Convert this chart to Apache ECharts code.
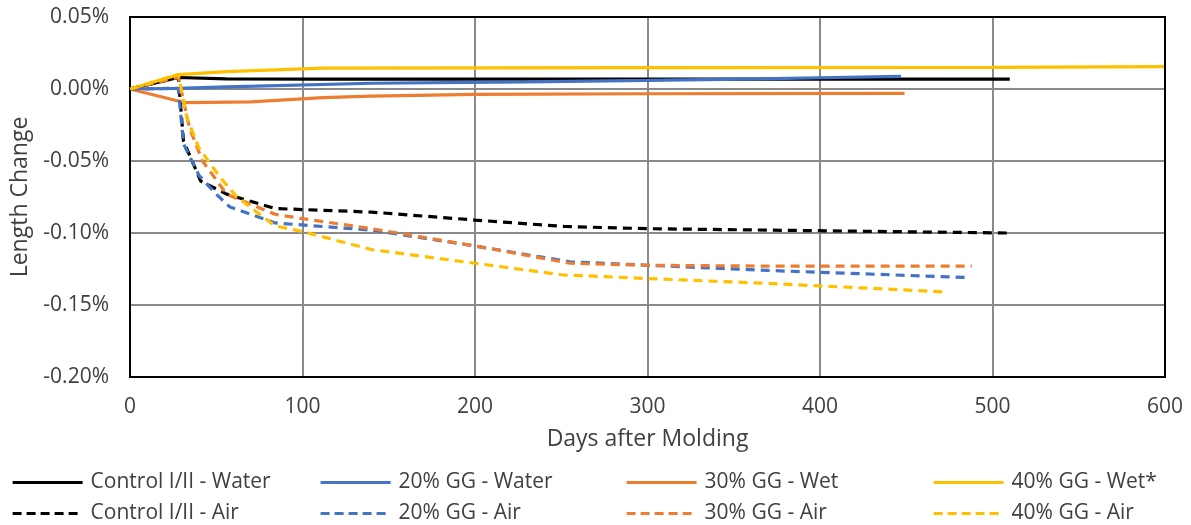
<!DOCTYPE html>
<html>
<head>
<meta charset="utf-8">
<script src="https://cdn.jsdelivr.net/npm/echarts@6/dist/echarts.min.js"></script>
<style>
  html, body { margin: 0; padding: 0; background: #fff; }
  #chart { width: 1191px; height: 525px; }
</style>
</head>
<body>
<div id="chart"></div>
<script>
// ---- Data (days after molding, length change in %) ----
const seriesNames = [
  'Control I/II - Water', '20% GG - Water', '30% GG - Wet', '40% GG - Wet*',
  'Control I/II - Air', '20% GG - Air', '30% GG - Air', '40% GG - Air'
];
const ctrlWater = [[0,0],[28,0.008],[56,0.007],[112,0.0068],[200,0.0068],[300,0.0068],[400,0.0068],[510,0.0068]];
const gg20Water = [[0,0],[28,0.0005],[56,0.0015],[140,0.004],[230,0.005],[300,0.006],[365,0.007],[400,0.0078],[447,0.0088]];
const gg30Wet   = [[0,0],[32,-0.0095],[70,-0.009],[112,-0.006],[140,-0.005],[200,-0.0038],[300,-0.0033],[449,-0.003]];
const gg40Wet   = [[0,0],[28,0.010],[56,0.012],[112,0.0145],[300,0.0148],[500,0.015],[600,0.0155]];
const ctrlAir   = [[0,0],[28,0.008],[31,-0.036],[41,-0.064],[56,-0.073],[84,-0.083],[140,-0.0855],[200,-0.091],[252,-0.0955],[300,-0.097],[370,-0.098],[509,-0.100]];
const gg20Air   = [[0,0],[28,0.0005],[31,-0.038],[40,-0.06],[50,-0.073],[58,-0.082],[84,-0.093],[140,-0.098],[200,-0.109],[255,-0.120],[300,-0.1224],[370,-0.126],[487,-0.131]];
const gg30Air   = [[0,0],[28,0.008],[34.5,-0.027],[42,-0.05],[56,-0.073],[84,-0.087],[100,-0.090],[140,-0.097],[200,-0.109],[255,-0.121],[300,-0.1224],[370,-0.123],[488,-0.123]];
const gg40Air   = [[0,0],[28,0.010],[33,-0.020],[40,-0.041],[52,-0.061],[62,-0.075],[84,-0.095],[100,-0.099],[140,-0.1115],[200,-0.121],[250,-0.129],[300,-0.1316],[370,-0.135],[474,-0.141]];

const seriesData = [ctrlWater, gg20Water, gg30Wet, gg40Wet, ctrlAir, gg20Air, gg30Air, gg40Air];
const colors = ['#000000', '#4472C4', '#ED7D31', '#FFC000', '#000000', '#4472C4', '#ED7D31', '#FFC000'];
const dashed = [false, false, false, false, true, true, true, true];

// ---- Layout ----
const FONT = 'Open Sans';
const TXT = '#404040';
const legendCols = [11, 319, 625, 932];
const legendRows = [472, 503];

const series = seriesData.map((d, i) => ({
  name: seriesNames[i],
  type: 'line',
  data: d,
  symbol: 'none',
  smooth: false,
  clip: true,
  lineStyle: { color: colors[i], width: 3.2, type: dashed[i] ? [9, 6] : 'solid' },
  itemStyle: { color: colors[i] },
  z: 3 + i,
  animation: false
}));

const legends = seriesNames.map((n, i) => ({
  data: [n],
  left: legendCols[i % 4],
  top: legendRows[Math.floor(i / 4)],
  itemWidth: 70,
  itemHeight: 14,
  itemGap: 0,
  padding: 0,
  itemStyle: { color: 'rgba(0,0,0,0)', borderWidth: 0, opacity: 0 },
  lineStyle: { color: colors[i], width: 3.2, type: dashed[i] ? [9, 5] : 'solid', opacity: 1 },
  textStyle: { fontFamily: FONT, fontSize: 21, color: TXT, padding: [0, 0, 0, 3] },
  selectedMode: false
}));

const chart = echarts.init(document.getElementById('chart'), null, { renderer: 'canvas' });
chart.setOption({
  animation: false,
  backgroundColor: '#ffffff',
  grid: {
    left: 130, right: 26, top: 17, bottom: 148,
    show: true, borderColor: '#000000', borderWidth: 2, backgroundColor: 'transparent', z: 10
  },
  legend: legends,
  xAxis: {
    type: 'value',
    min: 0, max: 600, interval: 100,
    name: 'Days after Molding',
    nameLocation: 'middle',
    nameGap: 51,
    nameTextStyle: { fontFamily: FONT, fontSize: 23, color: TXT },
    axisLine: { show: true, onZero: false, lineStyle: { color: '#000', width: 2 } },
    axisTick: { show: false },
    axisLabel: { fontFamily: FONT, fontSize: 21, color: TXT, margin: 20 },
    splitLine: { show: true, lineStyle: { color: '#8a8a8a', width: 2 } }
  },
  yAxis: {
    type: 'value',
    min: -0.2, max: 0.05, interval: 0.05,
    name: 'Length Change',
    nameLocation: 'middle',
    nameGap: 95,
    nameTextStyle: { fontFamily: FONT, fontSize: 23, color: TXT },
    axisLine: { show: true, onZero: false, lineStyle: { color: '#000', width: 2 } },
    axisTick: { show: false },
    axisLabel: {
      fontFamily: FONT, fontSize: 21, color: TXT, margin: 21,
      formatter: v => (Math.abs(v) < 1e-9 ? 0 : v).toFixed(2) + '%'
    },
    splitLine: { show: true, lineStyle: { color: '#8a8a8a', width: 2 } }
  },
  series: series
});
</script>
</body>
</html>
